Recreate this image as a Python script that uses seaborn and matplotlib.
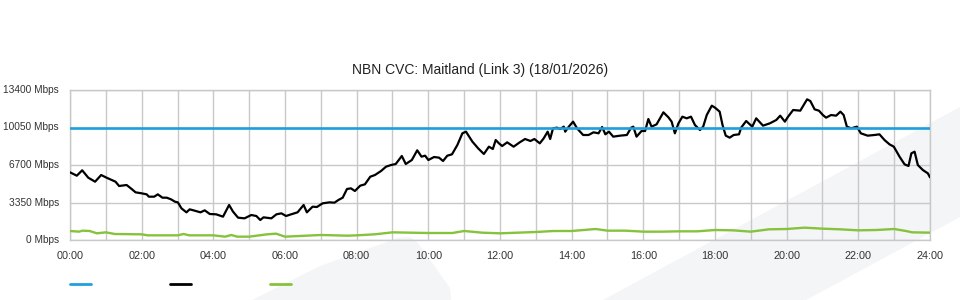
import matplotlib
matplotlib.use("Agg")
import matplotlib.pyplot as plt
import seaborn as sns
import pandas as pd
from matplotlib.patches import Polygon
from matplotlib.lines import Line2D

# ---------------- data ----------------
title = "NBN CVC: Maitland (Link 3) (18/01/2026)"
y_ticks = [0, 3350, 6700, 10050, 13400]
y_labels = ["0 Mbps", "3350 Mbps", "6700 Mbps", "10050 Mbps", "13400 Mbps"]
x_ticks = [0, 2, 4, 6, 8, 10, 12, 14, 16, 18, 20, 22, 24]
x_labels = ["00:00", "02:00", "04:00", "06:00", "08:00", "10:00", "12:00",
            "14:00", "16:00", "18:00", "20:00", "22:00", "24:00"]

capacity_hours = [0, 24]
capacity_mbps = [10050, 10050]

traffic_hours = [
    0.00, 0.19, 0.34, 0.51, 0.70, 0.87, 1.02, 1.16, 1.27, 1.37, 1.58, 1.72, 1.83,
    2.00, 2.14, 2.20, 2.35, 2.45, 2.58, 2.70, 2.82, 2.93, 3.01, 3.11, 3.25, 3.34,
    3.48, 3.64, 3.76, 3.90, 4.08, 4.27, 4.44, 4.55, 4.69, 4.87, 5.06, 5.20, 5.31,
    5.40, 5.62, 5.76, 5.90, 6.03, 6.17, 6.35, 6.52, 6.61, 6.77, 6.89, 7.05, 7.24,
    7.38, 7.49, 7.61, 7.73, 7.84, 7.95, 8.10, 8.23, 8.38, 8.51, 8.68, 8.82, 8.96,
    9.09, 9.26, 9.37, 9.54, 9.69, 9.81, 9.91, 10.00, 10.16, 10.30, 10.41, 10.53,
    10.66, 10.81, 10.95, 11.05, 11.23, 11.39, 11.55, 11.69, 11.80, 11.88, 11.97,
    12.06, 12.20, 12.38, 12.55, 12.70, 12.85, 12.96, 13.11, 13.22, 13.33, 13.40,
    13.48, 13.59, 13.68, 13.78, 13.82, 13.92, 14.04, 14.15, 14.32, 14.47, 14.61,
    14.75, 14.85, 14.94, 15.04, 15.16, 15.35, 15.54, 15.66, 15.72, 15.81, 15.95,
    16.05, 16.14, 16.23, 16.37, 16.56, 16.70, 16.79, 16.88, 16.98, 17.09, 17.21,
    17.33, 17.44, 17.58, 17.67, 17.77, 17.91, 18.00, 18.13, 18.21, 18.30, 18.41,
    18.52, 18.67, 18.73, 18.87, 19.04, 19.15, 19.34, 19.53, 19.71, 19.82, 19.95,
    20.04, 20.18, 20.38, 20.57, 20.66, 20.78, 20.90, 21.01, 21.10, 21.24, 21.38,
    21.50, 21.59, 21.68, 21.80, 21.96, 22.07, 22.26, 22.45, 22.59, 22.73, 22.87,
    22.99, 23.15, 23.29, 23.40, 23.48, 23.57, 23.66, 23.80, 23.94, 24.00]
traffic_mbps = [
    6047, 5745, 6226, 5566, 5209, 5806, 5566, 5360, 5209, 4824, 4913, 4556, 4258,
    4169, 4079, 3870, 3870, 4079, 3780, 3780, 3631, 3420, 3364, 2828, 2471, 2739,
    2620, 2471, 2650, 2323, 2293, 2084, 3127, 2531, 1995, 1935, 2233, 2144, 1787,
    2025, 1935, 2293, 2382, 2144, 2293, 2471, 3127, 2471, 2977, 2948, 3275, 3364,
    3335, 3573, 3780, 4556, 4615, 4377, 4854, 4973, 5656, 5806, 6164, 6551, 6700,
    6789, 7504, 6789, 7146, 8013, 7444, 7534, 7146, 7414, 7355, 7057, 7534,
    7653, 8486, 9530, 9680, 8784, 8188, 7683, 8337, 8129, 8933, 8635,
    8397, 8724, 8337, 8724, 9022, 8844, 9022, 8635, 9083, 9679, 9022,
    9977, 10036, 9917, 10125, 9679, 10125, 10572, 9977, 9380, 9380, 9619,
    9530, 10095, 9440, 9679, 9232, 9321, 9380, 10036, 10125, 9232, 9738,
    9738, 10810, 10125, 10333, 11405, 10959, 10572, 9530, 10422, 11018, 10869,
    11018, 10273, 9827, 10125, 11166, 11999, 11822, 11465, 10273, 9321, 9142,
    9380, 9440, 10036, 10631, 10125, 10869, 10214, 10422, 10720, 11106, 10572,
    11018, 11613, 11553, 12565, 12416, 11672, 11553, 11166, 10929, 11166, 11106,
    11465, 11166, 10125, 9977, 10125, 9530, 9321, 9380, 9440, 8933, 8545,
    8337, 7444, 6760, 6611, 7743, 7891, 6700, 6253, 5955, 5598]

upload_hours = [
    0.00, 0.25, 0.35, 0.55, 0.75, 1.00, 1.25, 2.00, 2.17, 3.00, 3.17, 3.33, 4.00,
    4.33, 4.50, 4.67, 5.00, 5.50, 5.75, 6.00, 7.00, 7.75, 8.00, 8.50, 9.00, 10.00,
    10.67, 11.00, 11.50, 12.00, 12.50, 13.00, 13.50, 14.00, 14.67, 15.00, 15.50,
    16.00, 16.50, 17.00, 17.50, 18.00, 18.50, 19.00, 19.50, 20.00, 20.50, 21.00,
    21.50, 22.00, 22.50, 23.00, 23.33, 23.50, 24.00]
upload_mbps = [
    804, 745, 834, 804, 596, 685, 536, 506, 417, 417, 536, 417, 417,
    298, 447, 298, 298, 506, 566, 298, 447, 387, 417, 506, 685, 625,
    625, 804, 655, 596, 655, 715, 804, 804, 983, 834, 834,
    745, 745, 774, 774, 893, 864, 745, 953, 983, 1102, 1013,
    953, 864, 893, 983, 804, 685, 655]

series_names = ["CVC capacity", "Download", "Upload"]
series_colors = ["#1da1dd", "#000000", "#86c23c"]

# ---------------- figure ----------------
sns.set_theme(style="white")
plt.rcParams["font.family"] = ["Liberation Sans", "DejaVu Sans"]

fig = plt.figure(figsize=(9.6, 3.0), dpi=100)
fig.patch.set_facecolor("white")

# decorative light watermark shapes (figure pixels -> fraction)
def px_poly(pts):
    return [(x / 960, 1 - y / 300) for x, y in pts]

band = Polygon(px_poly([(603, 300), (960, 107), (960, 217), (806, 300)]),
               closed=True, transform=fig.transFigure, facecolor="#f4f5f7",
               edgecolor="none", zorder=0)
blob = Polygon(px_poly([(252, 300), (320, 266), (398, 238), (410, 237),
                        (418, 243), (450, 288), (451, 300)]),
               closed=True, transform=fig.transFigure, facecolor="#f4f5f7",
               edgecolor="none", zorder=0)
fig.patches.extend([band, blob])

ax = fig.add_axes([70 / 960, 60 / 300, 860 / 960, 150 / 300])
ax.set_facecolor("none")
ax.set_zorder(1)

df_cap = pd.DataFrame({"hour": capacity_hours, "mbps": capacity_mbps})
df_dl = pd.DataFrame({"hour": traffic_hours, "mbps": traffic_mbps})
df_ul = pd.DataFrame({"hour": upload_hours, "mbps": upload_mbps})

sns.lineplot(data=df_ul, x="hour", y="mbps", ax=ax, color=series_colors[2],
             linewidth=1.7, estimator=None, sort=False, zorder=3)
sns.lineplot(data=df_dl, x="hour", y="mbps", ax=ax, color=series_colors[1],
             linewidth=1.6, estimator=None, sort=False, zorder=4)
sns.lineplot(data=df_cap, x="hour", y="mbps", ax=ax, color=series_colors[0],
             linewidth=1.9, estimator=None, sort=False, zorder=5)

ax.set_xlim(0, 24)
ax.set_ylim(0, 13400)
ax.set_xticks(x_ticks)
ax.set_xticklabels(x_labels)
ax.set_xticks(range(0, 25), minor=True)
ax.set_yticks(y_ticks)
ax.set_yticklabels(y_labels)
ax.set_xlabel("")
ax.set_ylabel("")

grid_c = "#c8c8c8"
ax.grid(True, which="both", axis="x", color=grid_c, linewidth=1.0)
ax.grid(True, which="major", axis="y", color=grid_c, linewidth=1.0)
for s in ax.spines.values():
    s.set_color(grid_c)
    s.set_linewidth(1.0)

ax.tick_params(axis="both", which="major", length=5, width=1.0, color=grid_c,
               labelcolor="#333333")
ax.tick_params(axis="x", which="minor", length=0)
ax.tick_params(axis="x", which="major", pad=3, labelsize=7.8)
ax.tick_params(axis="y", which="major", length=5, pad=3, labelsize=7.3)
for lbl in ax.get_yticklabels():
    lbl.set_verticalalignment("center")

fig.text(480 / 960, 1 - 70 / 300, title, ha="center", va="center",
         fontsize=10, color="#222222")

handles = [Line2D([], [], color=c, linewidth=2.0) for c in series_colors]
fig.legend(handles=handles, labels=["", "", ""], ncol=3, frameon=False,
           loc="center left", bbox_to_anchor=(70 / 960, 15 / 300),
           borderpad=0, borderaxespad=0, handlelength=1.9, handletextpad=0,
           columnspacing=7.1, fontsize=8)

fig.savefig("out.png", dpi=100)
